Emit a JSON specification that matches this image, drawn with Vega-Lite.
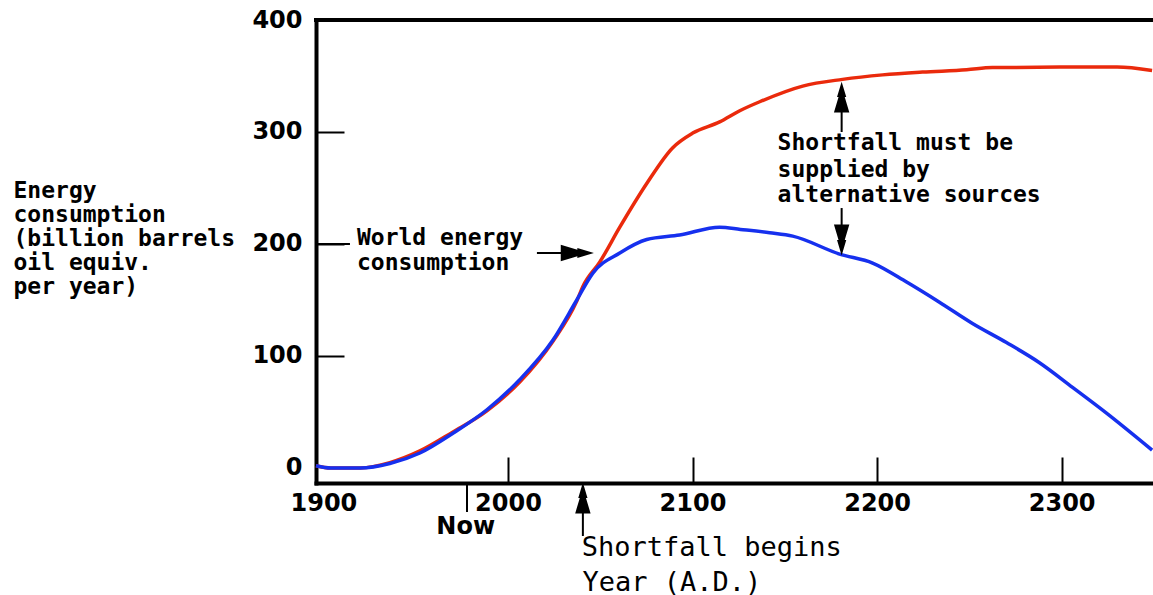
{
  "$schema": "https://vega.github.io/schema/vega-lite/v6.json",
  "width": 837,
  "height": 463,
  "autosize": "none",
  "padding": {"left": 316, "top": 20, "right": 0, "bottom": 112},
  "background": "white",
  "config": {"view": {"stroke": null}, "axis": {"grid": false}},
  "datasets": {
    "energy": [
      {"year": 1896, "value": 2, "series": "World energy consumption"},
      {"year": 1904, "value": 0, "series": "World energy consumption"},
      {"year": 1920, "value": 0, "series": "World energy consumption"},
      {"year": 1936, "value": 4.8, "series": "World energy consumption"},
      {"year": 1952, "value": 15, "series": "World energy consumption"},
      {"year": 1970, "value": 32, "series": "World energy consumption"},
      {"year": 1988.6, "value": 51, "series": "World energy consumption"},
      {"year": 2006.5, "value": 77, "series": "World energy consumption"},
      {"year": 2024.3, "value": 113, "series": "World energy consumption"},
      {"year": 2037.3, "value": 149, "series": "World energy consumption"},
      {"year": 2040.6, "value": 162, "series": "World energy consumption"},
      {"year": 2049.8, "value": 184, "series": "World energy consumption"},
      {"year": 2060.6, "value": 215, "series": "World energy consumption"},
      {"year": 2075.2, "value": 254, "series": "World energy consumption"},
      {"year": 2089.3, "value": 286, "series": "World energy consumption"},
      {"year": 2100.1, "value": 299, "series": "World energy consumption"},
      {"year": 2114.7, "value": 309, "series": "World energy consumption"},
      {"year": 2125.6, "value": 319, "series": "World energy consumption"},
      {"year": 2136.4, "value": 327, "series": "World energy consumption"},
      {"year": 2159.7, "value": 341, "series": "World energy consumption"},
      {"year": 2181.3, "value": 347, "series": "World energy consumption"},
      {"year": 2203, "value": 351, "series": "World energy consumption"},
      {"year": 2224.6, "value": 353.5, "series": "World energy consumption"},
      {"year": 2248.5, "value": 355.5, "series": "World energy consumption"},
      {"year": 2262.5, "value": 357.5, "series": "World energy consumption"},
      {"year": 2299, "value": 358, "series": "World energy consumption"},
      {"year": 2330, "value": 358, "series": "World energy consumption"},
      {"year": 2349, "value": 355, "series": "World energy consumption"},
      {"year": 1896, "value": 2, "series": "Supply"},
      {"year": 1904, "value": 0, "series": "Supply"},
      {"year": 1920, "value": 0, "series": "Supply"},
      {"year": 1936, "value": 4, "series": "Supply"},
      {"year": 1952.3, "value": 13.4, "series": "Supply"},
      {"year": 1970.2, "value": 31, "series": "Supply"},
      {"year": 1988.6, "value": 52, "series": "Supply"},
      {"year": 2006.5, "value": 79, "series": "Supply"},
      {"year": 2024.3, "value": 114, "series": "Supply"},
      {"year": 2037.3, "value": 150, "series": "Supply"},
      {"year": 2046, "value": 174, "series": "Supply"},
      {"year": 2060.6, "value": 192, "series": "Supply"},
      {"year": 2075.2, "value": 204, "series": "Supply"},
      {"year": 2093, "value": 208, "series": "Supply"},
      {"year": 2114.7, "value": 215, "series": "Supply"},
      {"year": 2126, "value": 213, "series": "Supply"},
      {"year": 2141.8, "value": 210, "series": "Supply"},
      {"year": 2154.3, "value": 207, "series": "Supply"},
      {"year": 2179.7, "value": 191, "series": "Supply"},
      {"year": 2197.6, "value": 183, "series": "Supply"},
      {"year": 2216, "value": 166, "series": "Supply"},
      {"year": 2233.8, "value": 148, "series": "Supply"},
      {"year": 2251.7, "value": 129, "series": "Supply"},
      {"year": 2270.1, "value": 112, "series": "Supply"},
      {"year": 2288, "value": 94, "series": "Supply"},
      {"year": 2305.9, "value": 72, "series": "Supply"},
      {"year": 2324.3, "value": 49, "series": "Supply"},
      {"year": 2349, "value": 16, "series": "Supply"}
    ],
    "shafts": [
      {"x": 1896, "x2": 1914.4, "y": 200, "y2": 200},
      {"x": 2015.7, "x2": 2037.6, "y": 192, "y2": 192},
      {"x": 2180.8, "x2": 2180.8, "y": 300, "y2": 331},
      {"x": 2180.8, "x2": 2180.8, "y": 232.1, "y2": 203.6},
      {"x": 2040.6, "x2": 2040.6, "y": -26.8, "y2": -60.7},
      {"x": 1977.8, "x2": 1977.8, "y": -13.4, "y2": -39.3}
    ],
    "headsRight": [{"x": 2037.6, "y": 192}],
    "headsUp": [{"x": 2180.8, "y": 331.2}, {"x": 2040.6, "y": -26.8}],
    "headsDown": [{"x": 2180.8, "y": 203.6}],
    "notes": [
      {"x": 1918.2, "y": 205.4, "text": "World energy"},
      {"x": 1918.2, "y": 183, "text": "consumption"},
      {"x": 2146.1, "y": 290.2, "text": "Shortfall must be"},
      {"x": 2146.1, "y": 266, "text": "supplied by"},
      {"x": 2146.1, "y": 243.8, "text": "alternative sources"}
    ],
    "now": [{"x": 1961.2, "y": -52.7, "text": "Now"}],
    "begins": [{"x": 2040, "y": -71.4, "text": "Shortfall begins"}]
  },
  "layer": [
    {
      "data": {"name": "energy"},
      "mark": {"type": "line", "strokeWidth": 3.5, "interpolate": "monotone"},
      "encoding": {
        "x": {
          "field": "year", "type": "quantitative",
          "scale": {"domain": [1896, 2349.5], "nice": false, "zero": false},
          "axis": {
            "orient": "bottom", "values": [1900, 2000, 2100, 2200, 2300], "format": "d",
            "labelFont": "DejaVu Sans", "labelFontWeight": "bold", "labelFontSize": 24, "labelColor": "black",
            "labelBaseline": "middle", "labelPadding": 46, "labelFlush": false, "labelOverlap": false,
            "tickSize": -26, "tickWidth": 2, "tickColor": "black",
            "tickOpacity": {"condition": {"test": "datum.value == 1900", "value": 0}, "value": 1},
            "domainWidth": 4, "domainColor": "black", "domainCap": "square",
            "title": "Year (A.D.)", "titleFont": "DejaVu Sans Mono", "titleFontWeight": "normal", "titleFontSize": 27,
            "titleColor": "black", "titleX": 266, "titleY": 99, "titleAlign": "left", "titleAnchor": "start", "titleBaseline": "middle"
          }
        },
        "y": {
          "field": "value", "type": "quantitative",
          "scale": {"domain": [-13.4, 400], "nice": false, "zero": false},
          "axis": {
            "orient": "left", "values": [0, 100, 200, 300, 400],
            "labelFont": "DejaVu Sans", "labelFontWeight": "bold", "labelFontSize": 24, "labelColor": "black",
            "labelBaseline": "middle", "labelPadding": 42, "labelFlush": false, "labelOverlap": false,
            "tickSize": -28, "tickWidth": 2, "tickColor": "black",
            "tickOpacity": {"condition": {"test": "datum.value == 0 || datum.value == 400", "value": 0}, "value": 1},
            "domainWidth": 4, "domainColor": "black", "domainCap": "square",
            "title": ["Energy", "consumption", "(billion barrels", "oil equiv.", "per year)"],
            "titleFont": "DejaVu Sans Mono", "titleFontWeight": "bold", "titleFontSize": 23, "titleColor": "black",
            "titleAngle": 0, "titleX": -303, "titleY": 170, "titleAlign": "left", "titleAnchor": "start",
            "titleBaseline": "middle", "titleLineHeight": 24
          }
        },
        "color": {
          "field": "series", "type": "nominal",
          "scale": {"domain": ["World energy consumption", "Supply"], "range": ["#ea2a0c", "#1630ee"]},
          "legend": null
        }
      }
    },
    {
      "data": {"values": [{}]},
      "mark": {"type": "rule", "strokeWidth": 4, "color": "black", "strokeCap": "square"},
      "encoding": {"y": {"datum": 400}}
    },
    {
      "data": {"name": "shafts"},
      "mark": {"type": "rule", "strokeWidth": 2, "color": "black"},
      "encoding": {
        "x": {"field": "x", "type": "quantitative"},
        "x2": {"field": "x2"},
        "y": {"field": "y", "type": "quantitative"},
        "y2": {"field": "y2"}
      }
    },
    {
      "data": {"name": "headsRight"},
      "mark": {"type": "point", "filled": true, "color": "black", "opacity": 1, "size": 1100, "angle": 0,
               "shape": "M1,0L0,-0.3L0,-0.2L-1,-0.5L-1,0.5L0,0.2L0,0.3Z"},
      "encoding": {
        "x": {"field": "x", "type": "quantitative"},
        "y": {"field": "y", "type": "quantitative"}
      }
    },
    {
      "data": {"name": "headsUp"},
      "mark": {"type": "point", "filled": true, "color": "black", "opacity": 1, "size": 950, "angle": 270,
               "shape": "M1,0L0,-0.3L0,-0.2L-1,-0.5L-1,0.5L0,0.2L0,0.3Z"},
      "encoding": {
        "x": {"field": "x", "type": "quantitative"},
        "y": {"field": "y", "type": "quantitative"}
      }
    },
    {
      "data": {"name": "headsDown"},
      "mark": {"type": "point", "filled": true, "color": "black", "opacity": 1, "size": 950, "angle": 90,
               "shape": "M1,0L0,-0.3L0,-0.2L-1,-0.5L-1,0.5L0,0.2L0,0.3Z"},
      "encoding": {
        "x": {"field": "x", "type": "quantitative"},
        "y": {"field": "y", "type": "quantitative"}
      }
    },
    {
      "data": {"name": "notes"},
      "mark": {"type": "text", "align": "left", "baseline": "middle", "font": "DejaVu Sans Mono", "fontWeight": "bold", "fontSize": 23, "color": "black"},
      "encoding": {
        "x": {"field": "x", "type": "quantitative"},
        "y": {"field": "y", "type": "quantitative"},
        "text": {"field": "text"}
      }
    },
    {
      "data": {"name": "now"},
      "mark": {"type": "text", "align": "left", "baseline": "middle", "font": "DejaVu Sans", "fontWeight": "bold", "fontSize": 24, "color": "black"},
      "encoding": {
        "x": {"field": "x", "type": "quantitative"},
        "y": {"field": "y", "type": "quantitative"},
        "text": {"field": "text"}
      }
    },
    {
      "data": {"name": "begins"},
      "mark": {"type": "text", "align": "left", "baseline": "middle", "font": "DejaVu Sans Mono", "fontWeight": "normal", "fontSize": 27, "color": "black"},
      "encoding": {
        "x": {"field": "x", "type": "quantitative"},
        "y": {"field": "y", "type": "quantitative"},
        "text": {"field": "text"}
      }
    }
  ]
}
